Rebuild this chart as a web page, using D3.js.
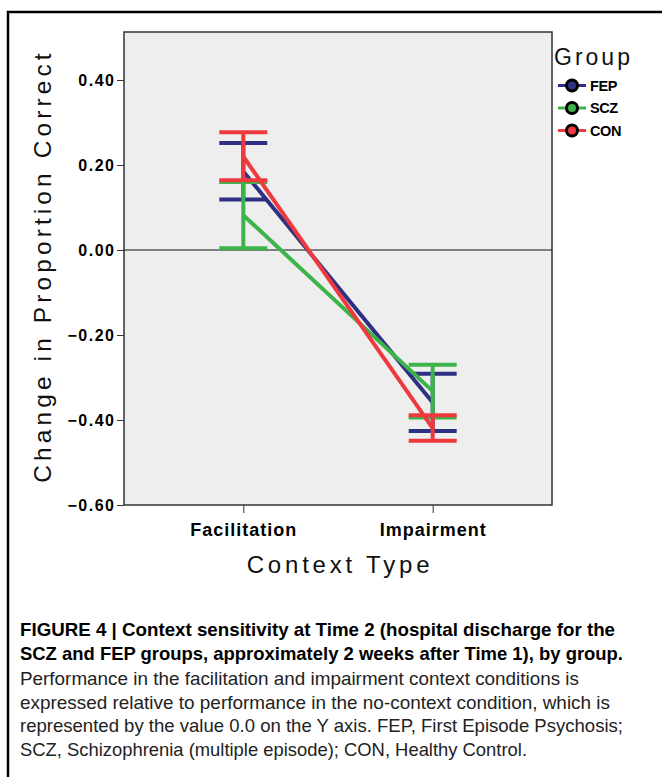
<!DOCTYPE html>
<html>
<head>
<meta charset="utf-8">
<script src="https://cdn.jsdelivr.net/npm/d3@7"></script>
<style>
  body { margin: 0; background: #fff; }
  svg { display: block; }
</style>
</head>
<body>
<script>
	// size of the svg and the plot area
	var w = 662;
	var h = 777;
	var plot = {left: 124, right: 552, top: 32, bottom: 505};

	// data
	var categories = ["Facilitation", "Impairment"];
	var groups = ["FEP", "SCZ", "CON"];
	var groupColors = ["#2e3183", "#3cb44a", "#ee3a3f"];
	var fepMean = [0.185, -0.359];
	var fepLow = [0.119, -0.426];
	var fepHigh = [0.252, -0.291];
	var sczMean = [0.082, -0.332];
	var sczLow = [0.004, -0.394];
	var sczHigh = [0.160, -0.270];
	var conMean = [0.220, -0.419];
	var conLow = [0.164, -0.449];
	var conHigh = [0.277, -0.389];
	var yTicks = [0.40, 0.20, 0.00, -0.20, -0.40, -0.60];

	var captionBold = [
		"FIGURE 4 | Context sensitivity at Time 2 (hospital discharge for the",
		"SCZ and FEP groups, approximately 2 weeks after Time 1), by group."
	];
	var captionText = [
		"Performance in the facilitation and impairment context conditions is",
		"expressed relative to performance in the no-context condition, which is",
		"represented by the value 0.0 on the Y axis. FEP, First Episode Psychosis;",
		"SCZ, Schizophrenia (multiple episode); CON, Healthy Control."
	];

	var series = [
		{name: groups[0], color: groupColors[0], mean: fepMean, low: fepLow, high: fepHigh},
		{name: groups[1], color: groupColors[1], mean: sczMean, low: sczLow, high: sczHigh},
		{name: groups[2], color: groupColors[2], mean: conMean, low: conLow, high: conHigh}
	];

	var svg = d3.select("body")
		.append("svg")
		.attr("width", w)
		.attr("height", h);

	// outer frame (runs off the right and bottom edge)
	svg.append("rect")
		.attr("x", 8).attr("y", 12)
		.attr("width", 720).attr("height", 820)
		.attr("fill", "none")
		.attr("stroke", "#000")
		.attr("stroke-width", 2.5);

	// scales
	var yScale = d3.scaleLinear()
		.domain([-0.6, 0.513])
		.range([plot.bottom, plot.top]);

	var xScale = d3.scalePoint()
		.domain(categories)
		.range([plot.left, plot.right])
		.padding(0.63);

	// plot background
	svg.append("rect")
		.attr("x", plot.left).attr("y", plot.top)
		.attr("width", plot.right - plot.left)
		.attr("height", plot.bottom - plot.top)
		.attr("fill", "#eeeeee")
		.attr("stroke", "#333")
		.attr("stroke-width", 1.5);

	var font = "'Liberation Sans', Arial, Helvetica, sans-serif";

	// y axis
	var yAxis = d3.axisLeft(yScale)
		.tickValues(yTicks)
		.tickFormat(d3.format(".2f"))
		.tickSize(7)
		.tickPadding(1.5);
	var yGuide = svg.append("g")
		.attr("transform", "translate(" + plot.left + ",0)")
		.call(yAxis);
	yGuide.select(".domain").remove();
	yGuide.selectAll("line").attr("stroke", "#333");
	yGuide.selectAll("text")
		.attr("font-family", font)
		.attr("font-size", "16px")
		.attr("font-weight", "bold")
		.attr("letter-spacing", "1.5px")
		.attr("fill", "#000");

	// x axis
	var xAxis = d3.axisBottom(xScale)
		.tickSize(8)
		.tickPadding(10);
	var xGuide = svg.append("g")
		.attr("transform", "translate(0," + plot.bottom + ")")
		.call(xAxis);
	xGuide.select(".domain").remove();
	xGuide.selectAll("line").attr("stroke", "#333");
	xGuide.selectAll("text")
		.attr("font-family", font)
		.attr("font-size", "18px")
		.attr("font-weight", "bold")
		.attr("letter-spacing", "1px")
		.attr("fill", "#000");

	// zero reference line
	svg.append("line")
		.attr("x1", plot.left).attr("x2", plot.right)
		.attr("y1", yScale(0)).attr("y2", yScale(0))
		.attr("stroke", "#111")
		.attr("stroke-width", 1.2);

	// axis titles
	svg.append("text")
		.text("Change in Proportion Correct")
		.attr("transform", "translate(51,266) rotate(-90)")
		.attr("text-anchor", "middle")
		.attr("font-family", font)
		.attr("font-size", "24.5px")
		.attr("letter-spacing", "4.1px")
		.attr("fill", "#111");

	svg.append("text")
		.text("Context Type")
		.attr("x", 340)
		.attr("y", 573)
		.attr("text-anchor", "middle")
		.attr("font-family", font)
		.attr("font-size", "24px")
		.attr("letter-spacing", "3.8px")
		.attr("fill", "#111");

	// error bars and lines, one group after the other
	var capHalf = 24;
	var line = d3.line()
		.x(function(d, i) { return xScale(categories[i]); })
		.y(function(d) { return yScale(d); });

	series.forEach(function(s) {
		var g = svg.append("g");
		categories.forEach(function(c, i) {
			var x = xScale(c);
			g.append("line")
				.attr("x1", x).attr("x2", x)
				.attr("y1", yScale(s.low[i])).attr("y2", yScale(s.high[i]))
				.attr("stroke", s.color).attr("stroke-width", 4);
			[s.low[i], s.high[i]].forEach(function(v) {
				g.append("line")
					.attr("x1", x - capHalf).attr("x2", x + capHalf)
					.attr("y1", yScale(v)).attr("y2", yScale(v))
					.attr("stroke", s.color).attr("stroke-width", 4);
			});
		});
		g.append("path")
			.datum(s.mean)
			.attr("d", line)
			.attr("fill", "none")
			.attr("stroke", s.color)
			.attr("stroke-width", 4);
	});

	// legend
	svg.append("text")
		.text("Group")
		.attr("x", 554)
		.attr("y", 65)
		.attr("font-family", font)
		.attr("font-size", "23px")
		.attr("letter-spacing", "3px")
		.attr("fill", "#111");

	var legend = svg.selectAll(".legend")
		.data(series)
		.enter()
		.append("g")
		.attr("class", "legend")
		.attr("transform", function(d, i) {
			return "translate(572," + (85.5 + i * 22.5) + ")";
		});
	legend.append("line")
		.attr("x1", -14).attr("x2", 14)
		.attr("stroke", function(d) { return d.color; })
		.attr("stroke-width", 3);
	legend.append("circle")
		.attr("r", 5.5)
		.attr("fill", function(d) { return d.color; })
		.attr("stroke", "#000")
		.attr("stroke-width", 3);
	legend.append("text")
		.text(function(d) { return d.name; })
		.attr("x", 18)
		.attr("y", 5)
		.attr("font-family", font)
		.attr("font-size", "14.5px")
		.attr("font-weight", "bold")
		.attr("letter-spacing", "-0.4px")
		.attr("fill", "#000");

	// caption (condensed face imitated by squeezing to the measured widths)
	var capWidthsBold = [595, 603];
	var capWidths = [559, 590, 603, 507];
	svg.selectAll(".capb")
		.data(captionBold)
		.enter()
		.append("text")
		.attr("class", "capb")
		.text(function(d) { return d; })
		.attr("x", 20)
		.attr("y", function(d, i) { return 636 + i * 23.5; })
		.attr("textLength", function(d, i) { return capWidthsBold[i]; })
		.attr("lengthAdjust", "spacingAndGlyphs")
		.attr("font-family", font)
		.attr("font-size", "19px")
		.attr("font-weight", "bold")
		.attr("fill", "#000");
	svg.selectAll(".capn")
		.data(captionText)
		.enter()
		.append("text")
		.attr("class", "capn")
		.text(function(d) { return d; })
		.attr("x", 20)
		.attr("y", function(d, i) { return 685 + i * 23.5; })
		.attr("textLength", function(d, i) { return capWidths[i]; })
		.attr("lengthAdjust", "spacingAndGlyphs")
		.attr("font-family", font)
		.attr("font-size", "18.5px")
		.attr("fill", "#222");
</script>
</body>
</html>
